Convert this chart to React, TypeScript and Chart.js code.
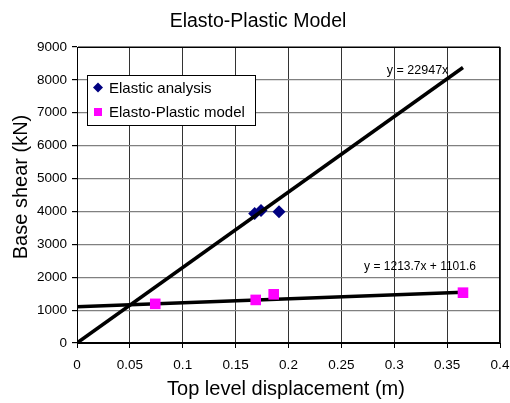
import { useEffect, useRef } from "react";
import { Chart, registerables } from "chart.js";

Chart.register(...registerables);

const chartTitle = "Elasto-Plastic Model";
const xAxisTitle = "Top level displacement (m)";
const yAxisTitle = "Base shear (kN)";
const seriesNames = ["Elastic analysis", "Elasto-Plastic model"];

const elasticX = [0.168, 0.174, 0.191];
const elasticY = [3940, 4030, 3990];
const plasticX = [0.074, 0.169, 0.186, 0.365];
const plasticY = [1190, 1310, 1480, 1530];

const trendX = [0, 0.365];
const elasticTrendY = [0, 8376];
const plasticTrendY = [1101.6, 1544.6];
const trendLabels = ["y = 22947x", "y = 1213.7x + 1101.6"];
const trendLabelX = [0.293, 0.2715];
const trendLabelY = [8190, 2210];

const xTickValues = [0, 0.05, 0.1, 0.15, 0.2, 0.25, 0.3, 0.35, 0.4];
const yTickValues = [0, 1000, 2000, 3000, 4000, 5000, 6000, 7000, 8000, 9000];

const FONT = "'Liberation Sans', Arial, Helvetica, sans-serif";
const ELASTIC_COLOR = "#000080";
const PLASTIC_COLOR = "#FF00FF";

const zip = (xs: number[], ys: number[]) => xs.map((x, i) => ({ x, y: ys[i] }));

const decorPlugin = {
  id: "decor",
  beforeDatasetsDraw(chart: any) {
    const { ctx, chartArea } = chart;
    ctx.save();
    ctx.strokeStyle = "#000";
    ctx.lineWidth = 1;
    ctx.strokeRect(
      Math.round(chartArea.left) + 0.5,
      Math.round(chartArea.top) + 0.5,
      Math.round(chartArea.right - chartArea.left) - 1,
      Math.round(chartArea.bottom - chartArea.top) - 1
    );
    ctx.restore();
  },
  afterDraw(chart: any) {
    const { ctx, chartArea, scales } = chart;
    const xs = scales.x;
    const ys = scales.y;
    ctx.save();
    ctx.fillStyle = "#000";
    // chart title
    ctx.font = `19.5px ${FONT}`;
    ctx.textAlign = "center";
    ctx.textBaseline = "alphabetic";
    ctx.fillText(chartTitle, 258, 27);
    // x axis title
    ctx.font = `20px ${FONT}`;
    ctx.fillText(xAxisTitle, 286, 395);
    // y axis title
    ctx.save();
    ctx.translate(27, 187);
    ctx.rotate(-Math.PI / 2);
    ctx.fillText(yAxisTitle, 0, 0);
    ctx.restore();

    // trendline labels
    ctx.textAlign = "left";
    const labelSizes = [12.5, 12];
    trendLabels.forEach((t, i) => {
      ctx.font = `${labelSizes[i]}px ${FONT}`;
      ctx.fillText(t, xs.getPixelForValue(trendLabelX[i]), ys.getPixelForValue(trendLabelY[i]));
    });

    // legend
    const lx = chartArea.left + 10;
    const ly = chartArea.top + 28;
    const lw = 168;
    const lh = 50;
    ctx.fillStyle = "#fff";
    ctx.fillRect(lx, ly, lw, lh);
    ctx.strokeStyle = "#000";
    ctx.lineWidth = 1;
    ctx.strokeRect(lx + 0.5, ly + 0.5, lw, lh);
    ctx.font = `15px ${FONT}`;
    ctx.textBaseline = "middle";
    const rowY = [ly + 12.5, ly + 37];
    // diamond
    ctx.fillStyle = ELASTIC_COLOR;
    ctx.beginPath();
    const dx = lx + 11;
    ctx.moveTo(dx, rowY[0] - 5);
    ctx.lineTo(dx + 5, rowY[0]);
    ctx.lineTo(dx, rowY[0] + 5);
    ctx.lineTo(dx - 5, rowY[0]);
    ctx.closePath();
    ctx.fill();
    // square
    ctx.fillStyle = PLASTIC_COLOR;
    ctx.fillRect(dx - 4, rowY[1] - 4, 8, 8);
    ctx.fillStyle = "#000";
    seriesNames.forEach((n, i) => ctx.fillText(n, lx + 22, rowY[i] + 1));
    ctx.restore();
  },
};

export default function App() {
  const canvasRef = useRef<HTMLCanvasElement | null>(null);

  useEffect(() => {
    document.body.style.margin = "0";
    const canvas = canvasRef.current;
    if (!canvas) return;
    const chart = new Chart(canvas, {
      type: "scatter",
      data: {
        datasets: [
          {
            label: seriesNames[0],
            data: zip(elasticX, elasticY),
            backgroundColor: ELASTIC_COLOR,
            borderColor: ELASTIC_COLOR,
            borderWidth: 0,
            pointStyle: "rectRot",
            pointRadius: 6.5,
            order: 4,
          },
          {
            label: "trend elastic",
            type: "line",
            data: zip(trendX, elasticTrendY),
            borderColor: "#000",
            borderWidth: 3.5,
            pointRadius: 0,
            showLine: true,
            fill: false,
            order: 3,
          } as any,
          {
            label: "trend plastic",
            type: "line",
            data: zip(trendX, plasticTrendY),
            borderColor: "#000",
            borderWidth: 3.5,
            pointRadius: 0,
            showLine: true,
            fill: false,
            order: 2,
          } as any,
          {
            label: seriesNames[1],
            data: zip(plasticX, plasticY),
            backgroundColor: PLASTIC_COLOR,
            borderColor: PLASTIC_COLOR,
            borderWidth: 0,
            pointStyle: "rect",
            pointRadius: 7.5,
            order: 1,
          },
        ],
      },
      options: {
        responsive: false,
        animation: false,
        devicePixelRatio: 1,
        layout: { padding: { top: 47, right: 10, left: 0, bottom: 0 } },
        plugins: {
          legend: { display: false },
          title: { display: false },
          tooltip: { enabled: false },
        },
        scales: {
          x: {
            type: "linear",
            min: 0,
            max: 0.4,
            afterBuildTicks: (s: any) => {
              s.ticks = xTickValues.map((v) => ({ value: v }));
            },
            afterFit: (s: any) => {
              s.height = 60;
              s.paddingLeft = 0;
              s.paddingRight = 0;
            },
            ticks: {
              autoSkip: false,
              maxRotation: 0,
              padding: 9,
              color: "#000",
              font: { family: FONT, size: 13.5 },
              callback: (v: any) => String(v),
            },
            grid: { color: "#333", lineWidth: 1, tickLength: 5, tickColor: "#000" },
            border: { color: "#000", width: 1 },
          },
          y: {
            type: "linear",
            min: 0,
            max: 9000,
            afterBuildTicks: (s: any) => {
              s.ticks = yTickValues.map((v) => ({ value: v }));
            },
            afterFit: (s: any) => {
              s.width = 77;
              s.paddingTop = 0;
              s.paddingBottom = 0;
            },
            ticks: {
              autoSkip: false,
              padding: 5,
              color: "#000",
              font: { family: FONT, size: 13.5 },
              callback: (v: any) => String(v),
            },
            grid: { color: "#808080", lineWidth: 1.2, tickLength: 5, tickColor: "#000" },
            border: { color: "#000", width: 1 },
          },
        },
      },
      plugins: [decorPlugin],
    });
    return () => chart.destroy();
  }, []);

  return (
    <div style={{ width: 510, height: 403, background: "#fff" }}>
      <canvas ref={canvasRef} width={510} height={403} style={{ display: "block" }} />
    </div>
  );
}
